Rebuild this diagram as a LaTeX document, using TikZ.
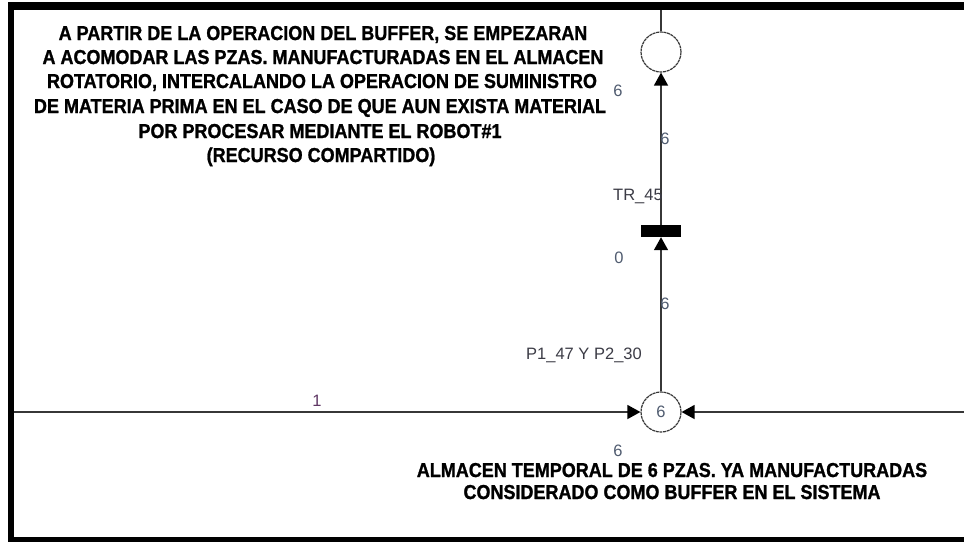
\documentclass[tikz,border=0pt]{standalone}
\usepackage{fontspec}
\setmainfont{Liberation Sans}
\newfontfamily\heavyfont[UprightFeatures={FakeBold=1.2},BoldFeatures={FakeBold=1.2}]{Liberation Sans}
\usetikzlibrary{arrows.meta}
\definecolor{lblcol}{RGB}{80,92,112}
\definecolor{onecol}{RGB}{95,55,100}
\definecolor{trcol}{RGB}{60,60,70}
\definecolor{linecol}{RGB}{55,55,55}
\newcommand{\tallnote}[1]{\scalebox{1}[1.12]{#1}}
\begin{document}
\begin{tikzpicture}[x=1pt,y=-1pt,
  place/.style={circle,draw=linecol,line width=1.2pt,dash pattern=on 3pt off 0.7pt,minimum size=40pt,inner sep=0pt},
  trans/.style={rectangle,fill=black,minimum width=40pt,minimum height=12pt,inner sep=0pt},
  arc/.style={draw=linecol,line width=1.5pt,-{Triangle[length=13pt,width=14pt,color=black]}},
  plainarc/.style={draw=linecol,line width=1.5pt},
  lbl/.style={font=\fontsize{16.5}{18}\selectfont,text=lblcol,inner sep=0pt},
  note/.style={font=\heavyfont\bfseries\fontsize{18}{20}\selectfont,text=black,inner sep=0pt,anchor=base}
]
\useasboundingbox (0,0) rectangle (964,542);
\fill[white] (0,0) rectangle (964,542);
% frame
\fill[black] (8,2) rectangle (964,10);
\fill[black] (8,2) rectangle (14,542);
\fill[black] (8,537) rectangle (964,542);

% net
\node[place] (p1) at (661,52) {};
\node[trans] (t45) at (661,231) {};
\node[place,font=\fontsize{16.5}{18}\selectfont,text=lblcol] (p2) at (661,412) {6};
\coordinate (topend) at (661,10);
\coordinate (leftend) at (14,412);
\coordinate (rightend) at (964,412);

\draw[plainarc] (p1.north) -- (topend);
\draw[arc] (t45.north) -- (p1.south);
\draw[arc] (p2.north) -- (t45.south);
\draw[arc] (leftend) -- (p2.west);
\draw[arc] (rightend) -- (p2.east);

% labels
\node[lbl] (l6a) at (618,91) {6};
\node[lbl] (l6b) at (665,139) {6};
\node[lbl,text=trcol] (ltr) at (638,196) {TR\_45};
\node[lbl] (l0) at (619,258) {0};
\node[lbl] (l6c) at (665,304) {6};
\node[lbl,text=trcol,anchor=east] (lp) at (642,355) {P1\_47 Y P2\_30};
\node[lbl,text=onecol] (l1) at (317,401) {1};
\node[lbl] (l6d) at (618,451) {6};

% notes
\node[note] (n1) at (323,40) {\tallnote{A PARTIR DE LA OPERACION DEL BUFFER, SE EMPEZARAN}};
\node[note] (n2) at (323,64) {\tallnote{A ACOMODAR LAS PZAS. MANUFACTURADAS EN EL ALMACEN}};
\node[note] (n3) at (322,88) {\tallnote{ROTATORIO, INTERCALANDO LA OPERACION DE SUMINISTRO}};
\node[note] (n4) at (320,113) {\tallnote{DE MATERIA PRIMA EN EL CASO DE QUE AUN EXISTA MATERIAL}};
\node[note] (n5) at (320,138) {\tallnote{POR PROCESAR MEDIANTE EL ROBOT\#1}};
\node[note] (n6) at (321,162) {\tallnote{(RECURSO COMPARTIDO)}};

\node[note] (b1) at (672,477) {\tallnote{ALMACEN TEMPORAL DE 6 PZAS. YA MANUFACTURADAS}};
\node[note] (b2) at (672,499) {\tallnote{CONSIDERADO COMO BUFFER EN EL SISTEMA}};
\end{tikzpicture}
\end{document}
